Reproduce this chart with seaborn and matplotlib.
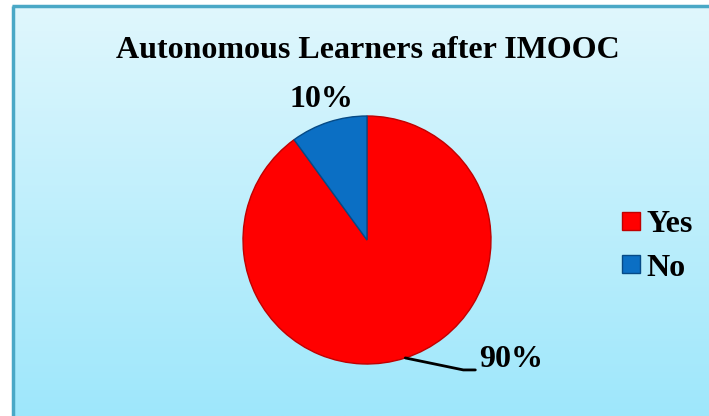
import numpy as np
import seaborn as sns
import matplotlib.pyplot as plt
from matplotlib.lines import Line2D

# data
labels = ["Yes", "No"]
values = [90, 10]
colors = ["#ff0000", "#0b6fc4"]
edges = ["#c00000", "#064a86"]
title = "Autonomous Learners after IMOOC"

sns.set_style("white")
plt.rcParams['font.family'] = ['Liberation Serif', 'DejaVu Serif']
plt.rcParams['text.color'] = 'black'

W, H = 709, 416
fig = plt.figure(figsize=(W / 100, H / 100), dpi=100)
fig.patch.set_facecolor("white")
ax = fig.add_axes([0, 0, 1, 1])

# gradient panel + border
grad = np.linspace(0, 1, 256).reshape(-1, 1)
top = np.array([224, 247, 253]) / 255
bot = np.array([158, 231, 251]) / 255
img = top[None, None, :] * (1 - grad[..., None]) + bot[None, None, :] * grad[..., None]
ax.imshow(img, extent=[12, W, 0, H - 5], aspect="auto", zorder=0, origin="upper")
ax.plot([13, 13], [0, H - 6], color="#4aa8c6", lw=2.5, zorder=1, solid_capstyle="butt")
ax.plot([12, W], [H - 6, H - 6], color="#4aa8c6", lw=2.5, zorder=1, solid_capstyle="butt")

# pie
cx, cy, r = 367, H - 240, 124
wedges, _ = ax.pie(values, colors=colors, startangle=90, counterclock=False,
                   center=(cx, cy), radius=r,
                   wedgeprops={"linewidth": 1.0, "zorder": 2})
for w, ec in zip(wedges, edges):
    w.set_edgecolor(ec)
ax.set_xlim(0, W)
ax.set_ylim(0, H)
ax.set_aspect("equal")
ax.axis("off")

# percentage labels
total = sum(values)
for w, v in zip(wedges, values):
    ang = np.deg2rad((w.theta1 + w.theta2) / 2)
    pct = f"{v / total * 100:.0f}%"
    ex, ey = cx + r * np.cos(ang), cy + r * np.sin(ang)
    if np.sin(ang) > 0:
        ax.text(cx + 1.19 * r * np.cos(ang), cy + 1.19 * r * np.sin(ang), pct,
                ha="center", va="center", fontsize=23, fontweight="bold", zorder=3)
    else:
        kx, ky = ex + 58, ey - 12
        ax.plot([ex, kx, kx + 12], [ey, ky, ky], color="black", lw=2, zorder=3)
        ax.text(kx + 16, ky + 10, pct, ha="left", va="center",
                fontsize=23, fontweight="bold", zorder=3)

ax.text(368, H - 50, title, ha="center", va="center",
        fontsize=23, fontweight="bold", zorder=3)

# legend
handles = [Line2D([], [], marker="s", linestyle="none", markersize=12.5,
                  markerfacecolor=c, markeredgecolor=e, markeredgewidth=1)
           for c, e in zip(colors, edges)]
leg = ax.legend(handles, labels, loc="center left", bbox_to_anchor=(605 / W, 1 - 246 / H),
                bbox_transform=fig.transFigure, frameon=False, handlelength=0.6,
                handletextpad=0.2, labelspacing=0.45, borderpad=0,
                prop={"family": "Liberation Serif", "weight": "bold", "size": 23})

fig.savefig("out.png", dpi=100)
